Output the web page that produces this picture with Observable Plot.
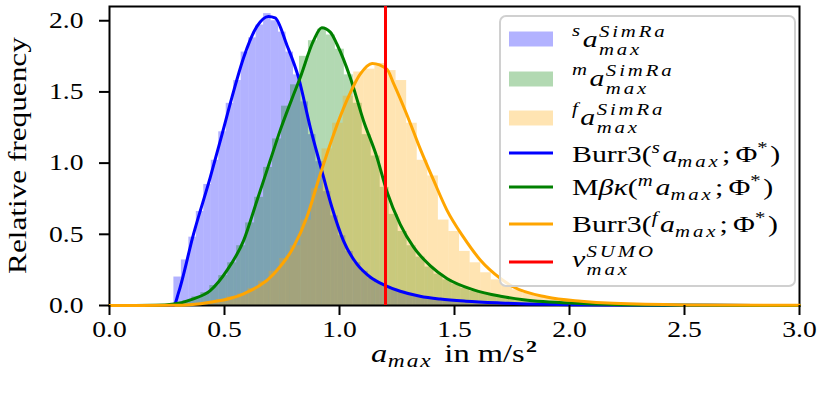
<!DOCTYPE html>
<html><head><meta charset="utf-8">
<script src="https://cdn.jsdelivr.net/npm/d3@7"></script>
<script src="https://cdn.jsdelivr.net/npm/@observablehq/plot@0.6"></script>
<style>
body{margin:0;background:#fff;}
#chart{position:relative;width:830px;height:404px;}
</style></head><body><div id="chart"></div>
<script>
// ---- data ----
const xTicks = [0, 0.5, 1, 1.5, 2, 2.5, 3];
const yTicks = [0, 0.5, 1, 1.5, 2];
const vmaxSUMO = 1.2;

const blueStart = 0.28, blueWidth = 0.0325;
const blueHist = [0.20, 0.32, 0.48, 0.66, 0.85, 1.02, 1.22, 1.42, 1.58, 1.78, 1.88, 1.97, 2.05, 2.00, 1.92, 1.78, 1.62, 1.43, 1.20, 1.01, 0.80, 0.63, 0.49, 0.38, 0.30, 0.24, 0.19, 0.16, 0.135, 0.115, 0.10, 0.085, 0.072, 0.062, 0.054, 0.047, 0.041, 0.036, 0.031, 0.027, 0.023, 0.02, 0.017, 0.014, 0.012, 0.01, 0.008, 0.006, 0.005, 0.004];

const greenStart = 0.28, greenWidth = 0.039;
const greenHist = [0.02, 0.035, 0.06, 0.09, 0.14, 0.21, 0.30, 0.42, 0.58, 0.76, 0.97, 1.17, 1.40, 1.55, 1.75, 1.86, 1.94, 1.90, 1.80, 1.62, 1.42, 1.20, 1.05, 0.83, 0.64, 0.52, 0.42, 0.34, 0.27, 0.22, 0.18, 0.15, 0.12, 0.10, 0.085, 0.07, 0.058, 0.048, 0.04, 0.033, 0.027, 0.022, 0.018, 0.015, 0.012, 0.009, 0.007, 0.005, 0.004, 0.003];

const orangeStart = 0.28, orangeWidth = 0.046;
const orangeHist = [0.005, 0.01, 0.015, 0.025, 0.04, 0.06, 0.08, 0.12, 0.17, 0.24, 0.33, 0.42, 0.60, 0.82, 1.10, 1.28, 1.47, 1.64, 1.66, 1.70, 1.65, 1.58, 1.28, 1.02, 0.91, 0.60, 0.52, 0.38, 0.30, 0.23, 0.18, 0.14, 0.11, 0.085, 0.07, 0.055, 0.045, 0.036, 0.029, 0.023, 0.019, 0.015, 0.012, 0.01, 0.008, 0.006, 0.005, 0.004, 0.003, 0.002];

const blueCurveX = [0, 0.28, 0.30, 0.365, 0.438, 0.489, 0.532, 0.583, 0.641, 0.691, 0.72, 0.771, 0.822, 0.873, 0.916, 0.967, 1.017, 1.076, 1.133, 1.2, 1.264, 1.35, 1.438, 1.55, 1.70, 1.9, 2.2, 2.6, 3.0];
const blueCurveY = [0, 0, 0.09, 0.50, 0.90, 1.20, 1.46, 1.74, 1.96, 2.03, 2.02, 1.83, 1.60, 1.25, 0.99, 0.69, 0.456, 0.29, 0.20, 0.14, 0.10, 0.065, 0.045, 0.03, 0.018, 0.008, 0.003, 0.001, 0];

const greenCurveX = [0, 0.2, 0.28, 0.365, 0.438, 0.51, 0.583, 0.641, 0.699, 0.742, 0.80, 0.829, 0.887, 0.923, 0.96, 0.989, 1.047, 1.104, 1.163, 1.206, 1.264, 1.322, 1.394, 1.467, 1.583, 1.70, 1.80, 2.05, 2.3, 2.6, 3.0];
const greenCurveY = [0, 0.001, 0.01, 0.047, 0.105, 0.245, 0.456, 0.736, 1.02, 1.23, 1.48, 1.60, 1.86, 1.95, 1.92, 1.835, 1.60, 1.30, 1.04, 0.80, 0.57, 0.41, 0.28, 0.19, 0.11, 0.065, 0.04, 0.014, 0.004, 0.001, 0];

const orangeCurveX = [0, 0.28, 0.35, 0.438, 0.583, 0.713, 0.80, 0.858, 0.916, 0.974, 1.032, 1.09, 1.142, 1.206, 1.235, 1.293, 1.351, 1.409, 1.467, 1.539, 1.612, 1.70, 1.757, 1.90, 2.05, 2.19, 2.5, 3.0];
const orangeCurveY = [0, 0.001, 0.006, 0.023, 0.082, 0.22, 0.41, 0.62, 0.92, 1.20, 1.44, 1.625, 1.70, 1.66, 1.56, 1.34, 1.10, 0.88, 0.67, 0.48, 0.32, 0.19, 0.13, 0.06, 0.03, 0.015, 0.004, 0.001];

// ---- build tables ----
const bins = (start, width, vals) => vals.map((v, i) => ({x1: start + i * width, x2: start + (i + 1) * width, y1: 0, y2: v}));
const curve = (xs, ys) => xs.map((x, i) => ({x, y: ys[i]}));

const FONT = "'Liberation Serif', 'Times New Roman', serif";
const SX = 1.2; // horizontal stretch of tick text

const plot = Plot.plot({
  width: 830, height: 404,
  marginLeft: 109, marginRight: 31, marginTop: 6, marginBottom: 99,
  x: {domain: [0, 3]},
  y: {domain: [0, 2.1]},
  style: {fontFamily: FONT, fontSize: "23px", color: "black", background: "white", overflow: "visible"},
  marks: [
    Plot.rect(bins(blueStart, blueWidth, blueHist), {x1: "x1", x2: "x2", y1: "y1", y2: "y2", fill: "blue", fillOpacity: 0.3}),
    Plot.rect(bins(greenStart, greenWidth, greenHist), {x1: "x1", x2: "x2", y1: "y1", y2: "y2", fill: "green", fillOpacity: 0.3}),
    Plot.rect(bins(orangeStart, orangeWidth, orangeHist), {x1: "x1", x2: "x2", y1: "y1", y2: "y2", fill: "orange", fillOpacity: 0.3}),
    Plot.frame({stroke: "black", strokeWidth: 2}),
    Plot.line(curve(blueCurveX, blueCurveY), {x: "x", y: "y", stroke: "blue", strokeWidth: 3, curve: "monotone-x"}),
    Plot.line(curve(greenCurveX, greenCurveY), {x: "x", y: "y", stroke: "green", strokeWidth: 3, curve: "monotone-x"}),
    Plot.line(curve(orangeCurveX, orangeCurveY), {x: "x", y: "y", stroke: "orange", strokeWidth: 3, curve: "monotone-x"}),
    Plot.ruleX([vmaxSUMO], {stroke: "red", strokeWidth: 3}),
    Plot.axisX({ticks: xTicks, tickFormat: d3.format(".1f"), tickSize: 10, tickPadding: 5, strokeWidth: 2, label: null, fontSize: 23, fontFamily: FONT}),
    Plot.axisY({ticks: yTicks, tickFormat: d3.format(".1f"), tickSize: 10, tickPadding: 16, strokeWidth: 2, label: null, fontSize: 23, fontFamily: FONT})
  ]
});
document.getElementById("chart").appendChild(plot);

const svg = d3.select(plot);
// stretch axis text horizontally around its anchor
svg.selectAll("text").each(function () {
  const t = d3.select(this);
  const tr = t.attr("transform") || "";
  const x = parseFloat(t.attr("x")) || 0;
  t.attr("font-family", FONT);
  t.attr("transform", `${tr} translate(${x},0) scale(${SX},1) translate(${-x},0)`);
});

function mathText(parent, segs) {
  const g = parent.append("g").attr("text-anchor", "start").attr("font-family", FONT);
  let x = 0, prevX = 0;
  for (const s of segs) {
    const sx = s.under ? prevX : x + (s.pad || 0);
    const t = g.append("text").attr("x", sx).attr("y", s.dy || 0)
      .attr("text-anchor", "start")
      .attr("font-family", FONT)
      .attr("font-size", s.size)
      .attr("font-style", s.it ? "italic" : "normal")
      .attr("font-weight", s.bold ? "bold" : "normal")
      .attr("letter-spacing", s.ls || 0)
      .attr("fill", "black").text(s.t);
    const w = t.node().getComputedTextLength();
    x = Math.max(x, sx + w);
    if (!s.under) prevX = sx;
  }
  return {g, width: x};
}

// ---- x label ----
{
  const XS = 1.3;
  const r = mathText(svg, [
    {t: "a", size: 25, it: true},
    {t: "max", size: 18, it: true, dy: 5, ls: 1.5, pad: 0.5},
    {t: "in m/s", size: 25, pad: 9},
    {t: "2", size: 17, bold: true, dy: -10, pad: 1}
  ]);
  r.g.attr("transform", `translate(${454 - r.width * XS / 2},362) scale(${XS},1)`);
}
// ---- y label ----
{
  const YS = 1.25;
  const r = mathText(svg, [{t: "Relative frequency", size: 25}]);
  r.g.attr("transform", `translate(26,${155.5 + r.width * YS / 2}) rotate(-90) scale(${YS},1)`);
}

// ---- legend ----
const leg = svg.append("g");
leg.append("rect").attr("x", 500).attr("y", 16).attr("width", 295).attr("height", 270)
  .attr("rx", 6).attr("fill", "white").attr("fill-opacity", 0.8)
  .attr("stroke", "#d0d0d0").attr("stroke-width", 2);

const patches = [["blue", 39], ["green", 79], ["orange", 118]];
for (const [c, cy] of patches) {
  leg.append("rect").attr("x", 509).attr("y", cy - 7.5).attr("width", 44).attr("height", 15)
    .attr("fill", c).attr("fill-opacity", 0.3);
}
const lines = [["blue", 153], ["green", 187], ["orange", 224], ["red", 262]];
for (const [c, cy] of lines) {
  leg.append("line").attr("x1", 509).attr("x2", 553).attr("y1", cy).attr("y2", cy)
    .attr("stroke", c).attr("stroke-width", 3);
}
const M = 23, S = 16, LS = 1.3;
const it = true;
const simRa = (pre) => [
  {t: pre, size: S, it, dy: -11},
  {t: "a", size: M, it, pad: 2},
  {t: "SimRa", size: S, it, dy: -10.5, ls: 2.2, pad: 1},
  {t: "max", size: S, it, dy: 7.5, ls: 2.2, under: true}
];
const burr = (head, pre) => [
  ...head,
  {t: pre, size: S, it, dy: -9},
  {t: "a", size: M, it, pad: 2},
  {t: "max", size: S, it, dy: 5, ls: 2.2},
  {t: ";", size: M, pad: 1},
  {t: "Φ", size: M, pad: 4},
  {t: "*", size: S, dy: -9},
  {t: ")", size: M, pad: 2}
];
const rows = [
  [47, simRa("s")],
  [86, simRa("m")],
  [125, simRa("f")],
  [161.5, burr([{t: "Burr3(", size: M}], "s")],
  [195, burr([{t: "M", size: M}, {t: "β", size: M, it}, {t: "κ", size: M, it}, {t: "(", size: M}], "m")],
  [232, burr([{t: "Burr3(", size: M}], "f")],
  [267, [{t: "v", size: M, it}, {t: "SUMO", size: S, it, dy: -10.5, ls: 2.2, pad: 1}, {t: "max", size: S, it, dy: 7.5, ls: 2.2, under: true}]]
];
for (const [by, segs] of rows) {
  const r = mathText(leg, segs);
  r.g.attr("transform", `translate(572,${by}) scale(${LS},1)`);
}
</script></body></html>
